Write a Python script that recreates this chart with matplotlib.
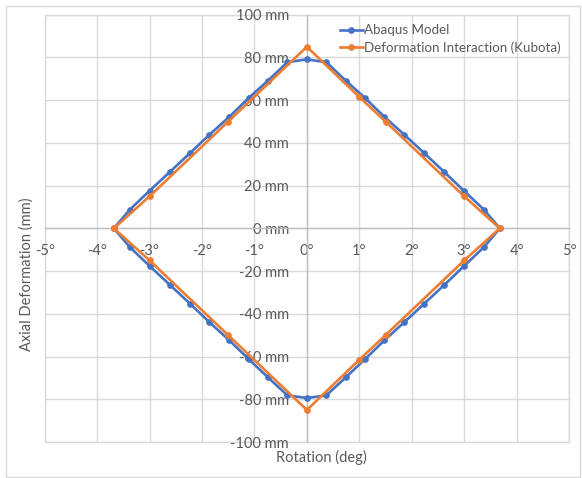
import matplotlib.pyplot as plt
from matplotlib.patches import Rectangle
from matplotlib.ticker import FuncFormatter, MultipleLocator

plt.rcParams['font.family'] = ['Lato', 'DejaVu Sans']

# Abaqus model loop: top branch left -> right, then bottom branch right -> left
abaqus_rot = [-3.68, -3.38, -3.0, -2.61, -2.23, -1.86, -1.48, -1.11, -0.74, -0.37, 0.0,
              0.37, 0.74, 1.11, 1.48, 1.86, 2.24, 2.62, 3.0, 3.38, 3.68,
              3.38, 3.0, 2.62, 2.24, 1.86, 1.48, 1.11, 0.74, 0.37, 0.0,
              -0.37, -0.74, -1.11, -1.48, -1.86, -2.23, -2.61, -3.0, -3.38, -3.68]
abaqus_def = [0.0, 8.7, 17.6, 26.5, 35.2, 43.8, 52.2, 61.0, 69.2, 77.8, 79.1,
              77.8, 69.2, 61.0, 52.2, 43.8, 35.2, 26.4, 17.5, 8.7, 0.0,
              -8.7, -17.6, -26.5, -35.2, -43.9, -52.4, -61.2, -69.8, -78.2, -79.4,
              -78.2, -69.8, -61.2, -52.4, -43.9, -35.2, -26.5, -17.6, -8.7, 0.0]

# Kubota deformation interaction diagram
kubota_rot = [-3.68, -3.0, -1.5, 0.0, 1.0, 1.5, 3.0, 3.68,
              3.0, 1.5, 1.0, 0.0, -1.5, -3.0, -3.68]
kubota_def = [0.0, 15.0, 50.0, 85.0, 61.5, 50.0, 15.0, 0.0,
              -15.0, -50.0, -61.5, -85.0, -50.0, -15.0, 0.0]

blue = '#4472C4'
orange = '#ED7D31'
grey_txt = '#595959'
grid_col = '#D9D9D9'

fig = plt.figure(figsize=(5.82, 4.78), dpi=100)
ax = fig.add_axes([0.0768, 0.0753, 0.9009, 0.8939])

ax.plot(abaqus_rot, abaqus_def, color=blue, lw=1.9, marker='o', ms=3.8,
        label='Abaqus Model', zorder=4)
ax.plot(kubota_rot, kubota_def, color=orange, lw=1.9, marker='o', ms=3.8,
        label='Deformation Interaction (Kubota)', zorder=5)

ax.set_xlim(-5, 5)
ax.set_ylim(-100, 100)
ax.xaxis.set_major_locator(MultipleLocator(1))
ax.yaxis.set_major_locator(MultipleLocator(20))
ax.xaxis.set_major_formatter(FuncFormatter(lambda v, p: '%d°' % round(v)))
ax.yaxis.set_major_formatter(FuncFormatter(lambda v, p: '%d mm' % round(v)))
ax.grid(True, color=grid_col, lw=1.0, zorder=0)

# axes cross at the origin, labels next to them
ax.spines['left'].set_position('zero')
ax.spines['bottom'].set_position('zero')
for s in ['left', 'bottom']:
    ax.spines[s].set_color('#BFBFBF')
    ax.spines[s].set_linewidth(1.0)
for s in ['top', 'right']:
    ax.spines[s].set_visible(False)
ax.add_patch(Rectangle((0, 0), 1, 1, transform=ax.transAxes, fill=False,
                       edgecolor=grid_col, lw=1.0, zorder=1, clip_on=False))

ax.tick_params(axis='both', length=0, labelsize=10.5, labelcolor=grey_txt)
ax.tick_params(axis='y', pad=13)
ax.tick_params(axis='x', pad=11)
for lab in ax.get_yticklabels():
    lab.set_zorder(2)

fig.text(0.045, 0.427, 'Axial Deformation (mm)', rotation=90, ha='center',
         va='center', fontsize=10.5, color=grey_txt)
fig.text(0.553, 0.042, 'Rotation (deg)', ha='center', va='center',
         fontsize=10.5, color=grey_txt)

leg = ax.legend(loc='upper left', bbox_to_anchor=(0.553, 0.99), frameon=False,
                fontsize=9.6, handlelength=1.7, handletextpad=0.1,
                labelspacing=0.35, borderaxespad=0)
for t in leg.get_texts():
    t.set_color(grey_txt)

# chart area border
fig.patches.append(Rectangle((0.011, 0.002), 0.985, 0.986, transform=fig.transFigure,
                             fill=False, edgecolor='#D9D9D9', lw=1.0))

fig.savefig('out.png', dpi=100, facecolor='white')
